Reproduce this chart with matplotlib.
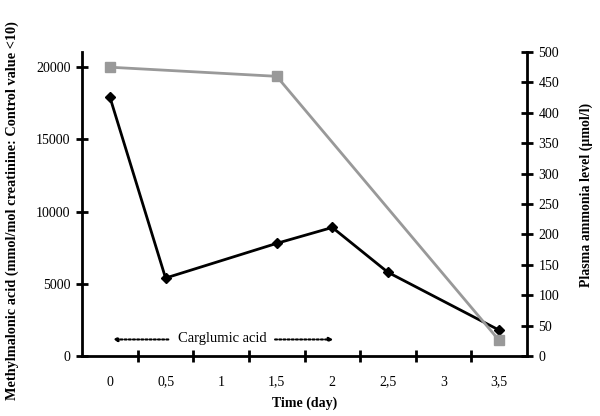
import matplotlib
matplotlib.use("Agg")
import matplotlib.pyplot as plt
import numpy as np

categories = ["0", "0,5", "1", "1,5", "2", "2,5", "3", "3,5"]
mma_values = [17900, 5400, None, 7800, 8900, 5800, None, 1800]
ammonia_values = [475, None, None, 460, None, None, None, 26]

plt.rcParams['font.family'] = ['Liberation Serif', 'DejaVu Serif']

fig = plt.figure(figsize=(6, 4.16), dpi=100)
ax = fig.add_axes([0.137, 0.144, 0.741, 0.731])
ax2 = ax.twinx()

idx = np.arange(len(categories))
mx = [i for i, v in zip(idx, mma_values) if v is not None]
my = [v for v in mma_values if v is not None]
ax.plot(mx, my, color='black', lw=2, marker='D', ms=5, zorder=3)

gx = [i for i, v in zip(idx, ammonia_values) if v is not None]
gy = [v for v in ammonia_values if v is not None]
ax2.plot(gx, gy, color='#999999', lw=2, marker='s', ms=7, zorder=2)

ax.set_xlim(-0.5, len(categories) - 0.5)
ax.set_ylim(0, 21040)
ax2.set_ylim(0, 500)

ax.set_yticks([0, 5000, 10000, 15000, 20000])
ax2.set_yticks(np.arange(0, 501, 50))

ax.set_xticks(np.arange(0.5, len(categories) - 0.5, 1))
ax.set_xticklabels([])
ax.set_xticks(idx, minor=True)
ax.set_xticklabels(categories, minor=True)
ax.tick_params(axis='x', which='minor', length=0, pad=14, labelsize=10)
ax.tick_params(axis='x', which='major', direction='inout', length=9, width=2)
ax.tick_params(axis='y', direction='inout', length=9, width=2, labelsize=10, pad=4)
ax2.tick_params(axis='y', direction='inout', length=9, width=2, labelsize=10, pad=4)

for a in (ax, ax2):
    a.spines['top'].set_visible(False)
    for s in ('left', 'right', 'bottom'):
        a.spines[s].set_linewidth(2)
ax.spines['right'].set_visible(False)
ax2.spines['left'].set_visible(False)
ax2.spines['bottom'].set_visible(False)

ax.set_xlabel("Time (day)", fontweight='bold', fontsize=10, labelpad=6)
ax.set_ylabel("Methylmalonic acid (mmol/mol creatinine: Control value <10)",
              fontweight='bold', fontsize=10.3)
ax.yaxis.set_label_coords(-0.142, 0.477)
ax2.set_ylabel("Plasma ammonia level (µmol/l)", fontweight='bold', fontsize=10)
ax2.yaxis.set_label_coords(1.118, 0.53)

# Carglumic acid annotation
yarr = 1150
ax.annotate("", xy=(0.05, yarr), xytext=(1.05, yarr),
            arrowprops=dict(arrowstyle='-|>', ls=(0, (1, 1)), lw=1.5, color='black',
                            mutation_scale=6, shrinkA=0, shrinkB=0))
ax.annotate("", xy=(4.02, yarr), xytext=(2.97, yarr),
            arrowprops=dict(arrowstyle='-|>', ls=(0, (1, 1)), lw=1.5, color='black',
                            mutation_scale=6, shrinkA=0, shrinkB=0))
ax.text(2.02, yarr + 80, "Carglumic acid", ha='center', va='center', fontsize=10.5)

fig.savefig("out.png", dpi=100)
